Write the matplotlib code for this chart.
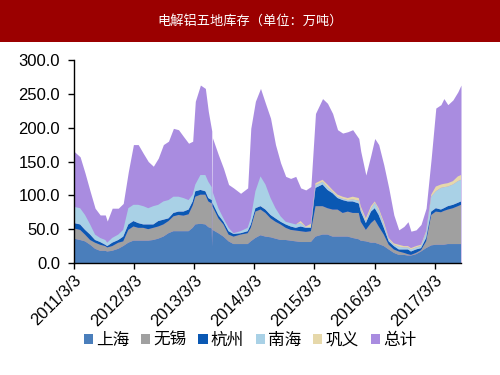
import matplotlib
matplotlib.use("Agg")
import matplotlib.pyplot as plt
from matplotlib.patches import Patch, Rectangle
import pandas as pd

plt.rcParams['font.family'] = ['Liberation Sans', 'Noto Sans CJK SC', 'DejaVu Sans']

# values (万吨)
dates = [
    "2011-03-03", "2011-04-09", "2011-05-09", "2011-06-09", "2011-07-09", "2011-08-09",
    "2011-09-09", "2011-09-21", "2011-10-21", "2011-11-27", "2011-12-27", "2012-01-27",
    "2012-02-27", "2012-03-27", "2012-04-27", "2012-05-27", "2012-06-27", "2012-07-27",
    "2012-08-27", "2012-09-27", "2012-10-27", "2012-11-27", "2012-12-27", "2013-01-27",
    "2013-02-21", "2013-03-09", "2013-04-09", "2013-05-09", "2013-05-27", "2013-06-17",
    "2013-06-19", "2013-06-21", "2013-07-27", "2013-08-27", "2013-09-27", "2013-10-27",
    "2013-12-09", "2014-01-21", "2014-02-09", "2014-03-09", "2014-04-09", "2014-05-09",
    "2014-06-09", "2014-07-09", "2014-08-09", "2014-09-09", "2014-10-09", "2014-11-09",
    "2014-12-09", "2015-01-09", "2015-02-09", "2015-03-09", "2015-04-21", "2015-05-21",
    "2015-06-21", "2015-07-21", "2015-08-21", "2015-09-21", "2015-10-21", "2015-11-27",
    "2015-12-09", "2016-01-09", "2016-02-09", "2016-03-03", "2016-03-27", "2016-04-27",
    "2016-05-27", "2016-06-27", "2016-07-27", "2016-08-27", "2016-09-21", "2016-10-09",
    "2016-11-09", "2016-12-09", "2017-01-09", "2017-02-09", "2017-03-09", "2017-04-09",
    "2017-04-27", "2017-05-21", "2017-06-21", "2017-07-21", "2017-08-09",
]
shanghai = [36, 34, 32, 27, 21, 18, 18, 17, 18, 21, 25, 30, 33, 33, 33, 33, 34, 36, 39, 44,
            47, 47, 47, 47, 52, 57, 58, 57, 53, 51, 24, 49, 44, 39, 32, 28, 28, 28, 32, 37,
            41, 39, 38, 36, 34, 34, 33, 32, 31, 31, 31, 39, 42, 42, 39, 39, 39, 39, 37, 35,
            33, 32, 30, 30, 28, 25, 20, 15, 12, 12, 11, 11, 13, 17, 22, 26, 27, 27, 27, 28,
            28, 28, 28]
wuxi = [15, 15, 10, 7, 9, 9, 7, 6, 7, 9, 7, 19, 21, 19, 19, 17, 18, 18, 18, 18,
        22, 24, 23, 25, 33, 41, 43, 44, 38, 37, 0, 35, 22, 18, 10, 11, 14, 16, 20, 39,
        38, 35, 28, 25, 23, 18, 16, 16, 16, 15, 16, 45, 42, 39, 40, 40, 35, 37, 37, 39,
        28, 17, 29, 34, 26, 17, 7, 5, 5, 3, 2, 1, 2, 2, 10, 45, 49, 48, 50, 51,
        53, 56, 58]
hangzhou = [8, 8, 7, 8, 4, 4, 2, 2, 5, 4, 7, 8, 8, 7, 5, 7, 5, 8, 7, 4,
            5, 5, 6, 7, 6, 8, 7, 5, 5, 5, 0, 5, 5, 4, 5, 4, 2, 3, 5, 5,
            5, 5, 5, 5, 4, 5, 5, 4, 7, 6, 5, 27, 32, 27, 24, 17, 19, 15, 17, 14,
            15, 10, 17, 17, 17, 10, 5, 5, 3, 5, 7, 5, 5, 3, 5, 5, 5, 4, 4, 5,
            5, 5, 5]
nanhai = [24, 24, 22, 15, 8, 6, 7, 5, 7, 8, 10, 24, 24, 27, 27, 24, 27, 24, 27, 27,
          24, 22, 20, 14, 10, 10, 22, 24, 24, 19, 0, 17, 10, 5, 5, 1, 3, 5, 9, 25,
          44, 37, 25, 15, 8, 4, 5, 5, 5, 1, 1, 4, 4, 4, 2, 2, 2, 2, 3, 4,
          4, 3, 4, 8, 7, 5, 3, 2, 4, 3, 3, 3, 3, 3, 8, 22, 25, 32, 31, 29,
          30, 32, 32]
gongyi = [0, 0, 0, 0, 0, 0, 0, 0, 0, 0, 0, 0, 0, 0, 0, 0, 0, 0, 0, 0,
          0, 0, 0, 0, 0, 0, 0, 0, 0, 0, 0, 0, 0, 0, 0, 0, 0, 0, 0, 0,
          0, 0, 0, 0, 0, 0, 0, 0, 3, 1, 5, 3, 3, 4, 3, 3, 3, 3, 4, 4,
          4, 4, 4, 2, 3, 4, 2, 2, 3, 2, 2, 2, 2, 2, 2, 3, 7, 5, 5, 5,
          5, 7, 7]
total = [165, 157, 133, 106, 81, 71, 71, 62, 81, 81, 88, 135, 175, 175, 162, 150, 143, 155, 175, 180,
         199, 197, 187, 177, 180, 239, 263, 258, 224, 195, 24, 185, 160, 140, 116, 111, 103, 111, 199, 239,
         258, 236, 214, 175, 148, 128, 125, 128, 111, 108, 113, 221, 243, 236, 221, 197, 192, 194, 197, 184,
         165, 130, 160, 184, 175, 145, 111, 71, 49, 54, 61, 47, 49, 57, 81, 155, 229, 234, 243, 234,
         241, 253, 263]

labels = ["上海", "无锡", "杭州", "南海", "巩义", "总计"]
colors = ["#4a7ebb", "#a0a0a0", "#0a58b3", "#a9d1e6", "#e6d8aa", "#a98ce0"]
tick_years = [2011, 2012, 2013, 2014, 2015, 2016, 2017]

x = pd.to_datetime(dates)

fig = plt.figure(figsize=(5, 3.75), dpi=100)

# red title bar
fig.patches.append(Rectangle((0, 1 - 42 / 375), 1, 42 / 375, transform=fig.transFigure,
                             facecolor="#9b0000", edgecolor="none", zorder=0))
fig.text(0.5, 1 - 21 / 375, "电解铝五地库存（单位：万吨）", color="white", fontsize=9.5,
         ha="center", va="center", family=["Noto Sans CJK SC", "DejaVu Sans"])

ax = fig.add_axes([74 / 500, 1 - 263 / 375, (461 - 74) / 500, (263 - 60) / 375])

ax.fill_between(x, 0, total, color=colors[5], linewidth=0)
ax.stackplot(x, shanghai, wuxi, hangzhou, nanhai, gongyi, colors=colors[:5], linewidth=0)

ax.set_ylim(0, 300)
ax.set_xlim(x[0], x[-1])
ax.set_yticks(range(0, 301, 50))
ax.yaxis.set_major_formatter(matplotlib.ticker.FormatStrFormatter("%.1f"))
ticks = [pd.Timestamp(f"{y}-03-03") for y in tick_years]
ax.set_xticks(ticks)
ax.set_xticklabels([f"{y}/3/3" for y in tick_years], rotation=45, ha="right",
                   rotation_mode="anchor")
ax.tick_params(axis="both", labelsize=12, colors="black", direction="out", length=4, width=1)
ax.tick_params(axis="y", pad=6)
ax.tick_params(axis="x", pad=3)

for s in ["top", "right"]:
    ax.spines[s].set_visible(False)
for s in ["left", "bottom"]:
    ax.spines[s].set_color("black")
    ax.spines[s].set_linewidth(1)

handles = [Patch(facecolor=c, edgecolor="none") for c in colors]
fig.legend(handles, labels, loc="center", bbox_to_anchor=(0.5, 1 - 340 / 375), ncol=6,
           frameon=False, fontsize=12, handlelength=0.55, handleheight=0.55,
           handletextpad=0.2, columnspacing=0.7)

fig.savefig("out.png", dpi=100)
